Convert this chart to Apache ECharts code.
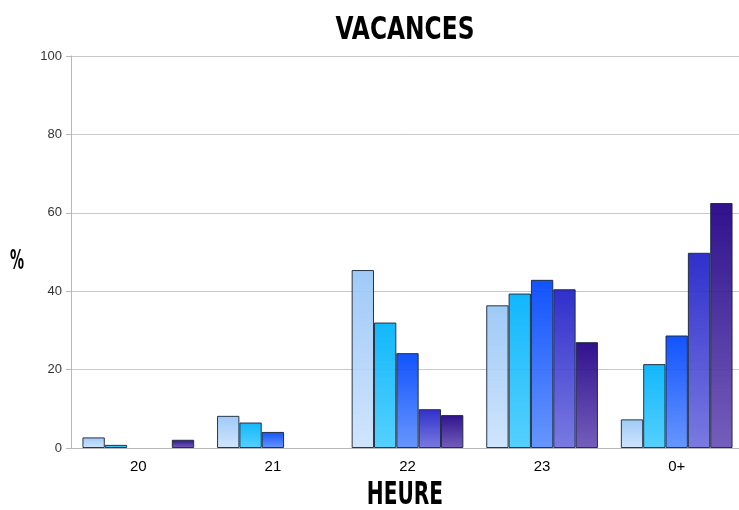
<!DOCTYPE html>
<html>
<head>
<meta charset="utf-8">
<script src="https://cdn.jsdelivr.net/npm/echarts@6/dist/echarts.min.js"></script>
<style>html,body{margin:0;padding:0;background:#fff;}#c{width:739px;height:510px;}</style>
</head>
<body>
<div id="c"></div>
<script>
var categories = ['20', '21', '22', '23', '0+'];
var s1 = [2.7, 8.2, 45.4, 36.4, 7.3];
var s2 = [0.8, 6.5, 32.0, 39.4, 21.4];
var s3 = [0, 4.1, 24.2, 42.9, 28.7];
var s4 = [0, 0, 9.9, 40.5, 49.8];
var s5 = [2.1, 0, 8.4, 27.0, 62.5];
var seriesData = [s1, s2, s3, s4, s5];
var titleText = 'VACANCES';
var xName = 'HEURE';
var yName = '%';
var topColors = ['#98c6f6', '#00b2fc', '#0046fc', '#2020c8', '#200084'];
var botColors = ['#cce3fd', '#48cdfd', '#5c8efd', '#7070de', '#6a52b6'];
var titleFont = '"DejaVu Sans Condensed", "DejaVu Sans", sans-serif';

var chart = echarts.init(document.getElementById('c'));
var series = seriesData.map(function (d, i) {
  return {
    type: 'bar',
    data: d.map(function (v) { return v === 0 ? '-' : v; }),
    barGap: '0%',
    barCategoryGap: '17%',
    itemStyle: {
      opacity: 0.93,
      borderColor: '#1c2838',
      borderWidth: 1,
      color: new echarts.graphic.LinearGradient(0, 0, 0, 1, [
        { offset: 0, color: topColors[i] },
        { offset: 1, color: botColors[i] }
      ])
    }
  };
});
function label(text, x, y, size, sx) {
  return {
    type: 'text', x: x, y: y, scaleX: sx, scaleY: 1,
    style: { text: text, fontFamily: titleFont, fontWeight: 'bold', fontSize: size, fill: '#000',
             align: 'center', verticalAlign: 'middle' }
  };
}
chart.setOption({
  animation: false,
  backgroundColor: '#fff',
  graphic: [
    label(titleText, 405, 31, 32, 0.81),
    label(xName, 405, 496, 32, 0.7),
    label(yName, 17, 262, 26, 0.6)
  ],
  grid: { left: 71, right: -5, top: 56, bottom: 62, outerBoundsMode: 'none', containLabel: false },
  xAxis: {
    type: 'category',
    data: categories,
    axisLine: { lineStyle: { color: '#b8b8b8' } },
    axisTick: { length: 7, lineStyle: { color: '#b8b8b8' } },
    axisLabel: { fontSize: 15, color: '#000', margin: 11, fontFamily: 'Liberation Sans' }
  },
  yAxis: {
    type: 'value',
    min: 0, max: 100, interval: 20,
    axisLine: { show: true, lineStyle: { color: '#b8b8b8' } },
    axisTick: { show: true, length: 5, lineStyle: { color: '#b8b8b8' } },
    axisLabel: { fontSize: 13, color: '#333', margin: 9, fontFamily: 'Liberation Sans' },
    splitLine: { lineStyle: { color: '#c8c8c8' } }
  },
  series: series
});
</script>
</body>
</html>
